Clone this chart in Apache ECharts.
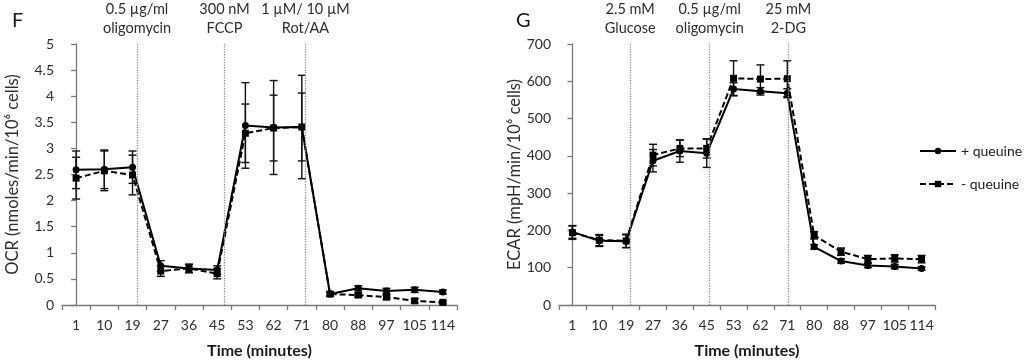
<!DOCTYPE html>
<html>
<head>
<meta charset="utf-8">
<script src="https://cdn.jsdelivr.net/npm/echarts@6/dist/echarts.min.js"></script>
<style>html,body{margin:0;padding:0;background:#fff}#c{width:1024px;height:364px}</style>
</head>
<body>
<div id="c"></div>
<script>
const categories = ['1','10','19','27','36','45','53','62','71','80','88','97','105','114'];

const ocrPlus      = [2.59,2.60,2.64,0.75,0.70,0.67,3.44,3.40,3.41,0.21,0.32,0.27,0.29,0.25];
const ocrPlusErr   = [0.36,0.37,0.31,0.10,0.08,0.08,0.82,0.90,0.99,0.04,0.05,0.05,0.05,0.04];
const ocrMinus     = [2.43,2.57,2.49,0.65,0.70,0.60,3.29,3.39,3.41,0.21,0.19,0.15,0.08,0.05];
const ocrMinusErr  = [0.40,0.38,0.38,0.10,0.08,0.10,0.56,0.63,0.65,0.04,0.04,0.04,0.04,0.03];

const ecarPlus     = [196,172,171,387,413,407,579,573,568,156,118,106,103,98];
const ecarPlusErr  = [17,15,17,30,30,38,17,10,12,6,6,6,6,5];
const ecarMinus    = [194,174,172,402,420,420,608,606,607,187,143,123,125,123];
const ecarMinusErr = [18,15,18,29,22,26,47,38,48,10,10,10,10,10];

// injection times, in category-index units
const ocrInjectAt = [2.16, 5.26, 8.13];
const ocrInjectLabels = ['0.5 µg/ml\noligomycin', '300 nM\nFCCP', '1 µM/ 10 µM\nRot/AA'];
const ecarInjectAt = [2.15, 5.11, 8.04];
const ecarInjectLabels = ['2.5 mM\nGlucose', '0.5 µg/ml\noligomycin', '25 mM\n2-DG'];

const seriesNames = ['+ queuine', '- queuine'];

const FONT = 'Lato';
const TXT = '#2e2e2e';
const AX = '#7a7a7a';

function errRender(params, api) {
  const x = api.value(0);
  const lo = api.coord([x, api.value(1)]);
  const hi = api.coord([x, api.value(2)]);
  const w = 4;
  const st = {stroke: '#111', lineWidth: 1.4};
  return {type: 'group', children: [
    {type: 'line', shape: {x1: lo[0], y1: lo[1], x2: hi[0], y2: hi[1]}, style: st},
    {type: 'line', shape: {x1: lo[0]-w, y1: lo[1], x2: lo[0]+w, y2: lo[1]}, style: st},
    {type: 'line', shape: {x1: hi[0]-w, y1: hi[1], x2: hi[0]+w, y2: hi[1]}, style: st}
  ]};
}
function errData(m, e) { return m.map((v, i) => [i, v - e[i], v + e[i]]); }

function catAxis(gi) {
  return {
    type: 'category', gridIndex: gi, data: categories, boundaryGap: true,
    axisLine: {lineStyle: {color: AX, width: 1.3}},
    axisTick: {show: true, length: 5, lineStyle: {color: AX, width: 1.3}},
    axisLabel: {interval: 0, margin: 13, color: TXT, fontSize: 14, fontFamily: FONT},
    name: 'Time (minutes)', nameLocation: 'middle', nameGap: 38,
    nameTextStyle: {color: '#1a1a1a', fontSize: 16, fontWeight: 'bold', fontFamily: FONT}
  };
}
function valAxis(gi, max, interval, name) {
  return {
    type: 'value', gridIndex: gi, min: 0, max: max, interval: interval,
    splitLine: {show: false},
    axisLine: {show: true, lineStyle: {color: AX, width: 1.3}},
    axisTick: {show: true, length: 5, lineStyle: {color: AX, width: 1.3}},
    axisLabel: {color: TXT, fontSize: 14, fontFamily: FONT, margin: 8},
    name: name, nameLocation: 'middle', nameGap: gi === 0 ? 41 : 36,
    nameTextStyle: {color: TXT, fontSize: 16.5, fontFamily: FONT}
  };
}
function hiddenX(gi) {
  return {type: 'value', gridIndex: gi, min: -0.5, max: 13.5, show: false};
}
function injectSeries(xi, yi, at, labels) {
  return {
    type: 'line', xAxisIndex: xi, yAxisIndex: yi, data: [], silent: true,
    markLine: {
      silent: true, symbol: 'none', animation: false,
      lineStyle: {type: 'dotted', color: '#8f8f8f', width: 1.3},
      label: {show: true, position: 'end', distance: 6, color: TXT, fontSize: 14.5,
              fontFamily: FONT, lineHeight: 19, align: 'center'},
      data: at.map((v, i) => ({xAxis: v, label: {formatter: labels[i]}}))
    }
  };
}
function lineSeries(name, xi, yi, data, dashed) {
  return {
    name: name, type: 'line', xAxisIndex: xi, yAxisIndex: yi, data: data,
    symbol: dashed ? 'rect' : 'circle', symbolSize: 7,
    itemStyle: {color: '#000'},
    lineStyle: {color: '#000', width: 2, type: dashed ? [6, 3] : 'solid'},
    z: 3
  };
}
function errSeries(xi, yi, m, e) {
  return {
    type: 'custom', xAxisIndex: xi, yAxisIndex: yi, renderItem: errRender,
    data: errData(m, e), encode: {x: 0, y: [1, 2]}, silent: true, z: 2
  };
}

const option = {
  animation: false,
  backgroundColor: '#fff',
  textStyle: {fontFamily: FONT},
  title: [
    {text: 'F', left: 7, top: 6, textStyle: {fontSize: 20, fontWeight: 'normal', color: '#1a1a1a', fontFamily: FONT}},
    {text: 'G', left: 511, top: 6, textStyle: {fontSize: 20, fontWeight: 'normal', color: '#1a1a1a', fontFamily: FONT}}
  ],
  legend: {
    data: seriesNames, orient: 'vertical', left: 914, top: 139,
    itemWidth: 36, itemHeight: 8, itemGap: 19,
    textStyle: {color: '#1a1a1a', fontSize: 14, fontFamily: FONT}
  },
  grid: [
    {left: 62, right: 567, top: 44, bottom: 58},
    {left: 559, right: 89, top: 44, bottom: 57}
  ],
  xAxis: [catAxis(0), catAxis(1), hiddenX(0), hiddenX(1)],
  yAxis: [
    valAxis(0, 5, 0.5, 'OCR (nmoles/min/10⁶ cells)'),
    valAxis(1, 700, 100, 'ECAR (mpH/min/10⁶ cells)')
  ],
  series: [
    errSeries(0, 0, ocrPlus, ocrPlusErr),
    errSeries(0, 0, ocrMinus, ocrMinusErr),
    lineSeries(seriesNames[0], 0, 0, ocrPlus, false),
    lineSeries(seriesNames[1], 0, 0, ocrMinus, true),
    errSeries(1, 1, ecarPlus, ecarPlusErr),
    errSeries(1, 1, ecarMinus, ecarMinusErr),
    lineSeries(seriesNames[0], 1, 1, ecarPlus, false),
    lineSeries(seriesNames[1], 1, 1, ecarMinus, true),
    injectSeries(2, 0, ocrInjectAt, ocrInjectLabels),
    injectSeries(3, 1, ecarInjectAt, ecarInjectLabels)
  ]
};
echarts.init(document.getElementById('c')).setOption(option);
</script>
</body>
</html>
